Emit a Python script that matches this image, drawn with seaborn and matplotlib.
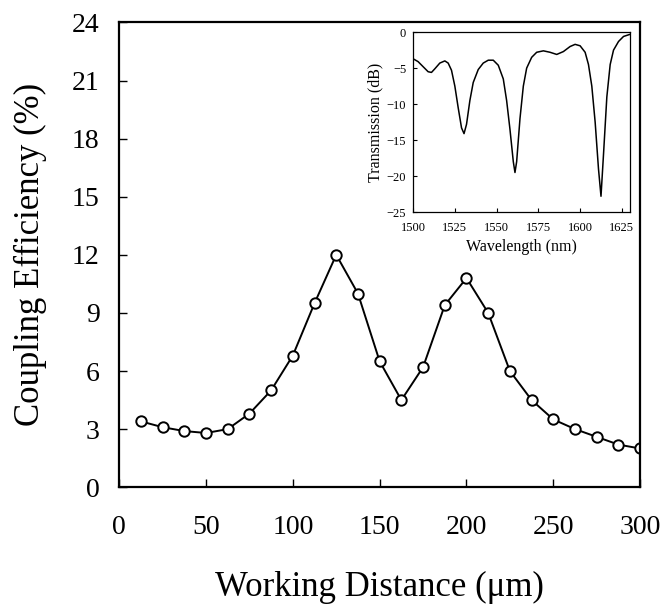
import matplotlib
matplotlib.use("Agg")
import matplotlib.pyplot as plt
import seaborn as sns
import pandas as pd

# main curve: coupling efficiency vs working distance
distance_um = [12.5, 25, 37.5, 50, 62.5, 75, 87.5, 100, 112.5, 125, 137.5, 150,
               162.5, 175, 187.5, 200, 212.5, 225, 237.5, 250, 262.5, 275, 287.5, 300]
efficiency_pct = [3.4, 3.1, 2.9, 2.8, 3.0, 3.8, 5.0, 6.8, 9.5, 12.0, 10.0, 6.5,
                  4.5, 6.2, 9.4, 10.8, 9.0, 6.0, 4.5, 3.5, 3.0, 2.6, 2.2, 2.0]

# inset: transmission spectrum
wavelength_nm = [1500, 1503, 1506, 1509, 1511, 1513, 1516, 1519, 1521, 1523, 1525,
                 1527, 1529, 1530.5, 1532, 1534, 1536, 1539, 1542, 1545, 1548, 1551,
                 1554, 1556, 1558, 1560, 1561, 1562, 1564, 1566, 1568, 1571, 1574,
                 1578, 1582, 1586, 1590, 1594, 1597, 1600, 1603, 1605, 1607, 1609,
                 1611, 1612.5, 1614, 1616, 1618, 1620, 1623, 1626, 1630]
transmission_db = [-3.7, -4.1, -4.8, -5.5, -5.6, -5.1, -4.3, -4.0, -4.3, -5.3, -7.5,
                   -10.5, -13.3, -14.1, -12.8, -9.5, -7.0, -5.2, -4.3, -3.9, -3.9, -4.6,
                   -6.5, -9.5, -13.5, -18.0, -19.5, -18.0, -12.0, -7.5, -5.0, -3.5, -2.8,
                   -2.6, -2.8, -3.1, -2.7, -2.0, -1.7, -1.9, -2.8, -4.5, -7.5, -12.5,
                   -19.0, -22.8, -17.0, -9.0, -4.5, -2.5, -1.3, -0.6, -0.3]

sns.set_style("ticks")
plt.rcParams["font.family"] = ["Liberation Serif", "DejaVu Serif"]
plt.rcParams.update({"text.color": "black", "axes.labelcolor": "black",
                     "xtick.color": "black", "ytick.color": "black",
                     "axes.edgecolor": "black"})

main_df = pd.DataFrame({"distance": distance_um, "efficiency": efficiency_pct})
inset_df = pd.DataFrame({"wavelength": wavelength_nm, "transmission": transmission_db})

fig = plt.figure(figsize=(6.62, 6.06), dpi=100)
ax = fig.add_axes([0.180, 0.196, 0.787, 0.767])

sns.lineplot(data=main_df, x="distance", y="efficiency", ax=ax, color="black",
             linewidth=1.4, marker="o", markersize=7.5, markerfacecolor="white",
             markeredgecolor="black", markeredgewidth=1.4)
ax.set_xlim(0, 300)
ax.set_ylim(0, 24)
ax.set_xticks(range(0, 301, 50))
ax.set_yticks(range(0, 25, 3))
ax.tick_params(direction="in", length=6, width=1, labelsize=20)
ax.tick_params(axis="x", pad=20)
ax.tick_params(axis="y", pad=14)
for s in ax.spines.values():
    s.set_linewidth(1.6)
ax.set_xlabel("Working Distance (\u03bcm)", fontsize=25, labelpad=22)
ax.set_ylabel("Coupling Efficiency (%)", fontsize=25, labelpad=18)

# inset
ins = fig.add_axes([0.624, 0.650, 0.328, 0.297])
sns.lineplot(data=inset_df, x="wavelength", y="transmission", ax=ins,
             color="black", linewidth=1.1)
ins.set_xlim(1500, 1630)
ins.set_ylim(-25, 0)
ins.set_xticks(range(1500, 1626, 25))
ins.set_yticks(range(-25, 1, 5))
ins.tick_params(direction="in", length=3, width=0.8, labelsize=9)
ins.tick_params(axis="x", pad=7)
ins.tick_params(axis="y", pad=5)
for s in ins.spines.values():
    s.set_linewidth(0.9)
ins.set_xlabel("Wavelength (nm)", fontsize=11.5, labelpad=4)
ins.set_ylabel("Transmission (dB)", fontsize=11.5, labelpad=2)

fig.savefig("out.png", dpi=100)
